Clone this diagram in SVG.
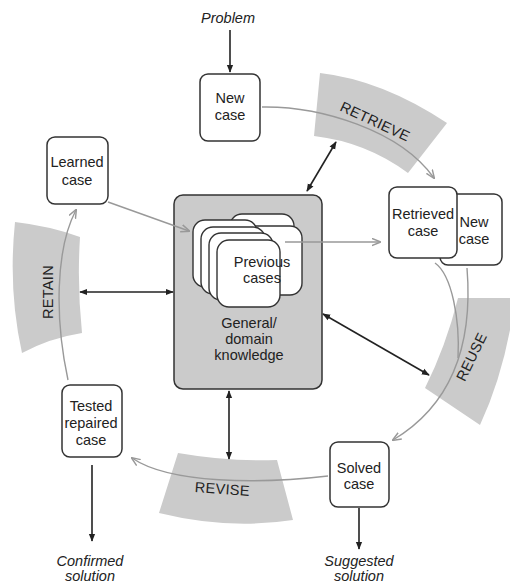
<svg xmlns="http://www.w3.org/2000/svg" width="510" height="585" viewBox="0 0 510 585">
<defs>
<style>
text{font-family:"Liberation Sans",Arial,sans-serif;font-size:14.5px;fill:#222;text-anchor:middle}
.it{font-style:italic}
.band{fill:#cbcbcb;stroke:none}
.phase{font-size:14.5px;letter-spacing:0.3px}
.box{fill:#fff;stroke:#333;stroke-width:1.5}
.card{fill:#fff;stroke:#333;stroke-width:1.4}
.blk{fill:none;stroke:#222;stroke-width:1.6}
.gry{fill:none;stroke:#999;stroke-width:1.4}
</style>
<marker id="ab" viewBox="0 0 10 10" refX="9" refY="5" markerWidth="8" markerHeight="8" orient="auto-start-reverse" markerUnits="userSpaceOnUse"><path d="M0,1 L10,5 L0,9 Z" fill="#222"/></marker>
<marker id="ag" viewBox="0 0 10 10" refX="9" refY="5" markerWidth="9" markerHeight="9" orient="auto" markerUnits="userSpaceOnUse"><path d="M0,1 L10,5 L0,9" fill="none" stroke="#999" stroke-width="1.6"/></marker>
</defs>
<rect width="510" height="585" fill="#fff"/>

<g id="bands">
<path class="band" d="M320,73 Q382,80 447,123 L408,173 Q366,142 314,136 Z"/>
<path class="band" d="M458,298 L510,298 L510,330 Q500,382 480,425 L425,388 Q446,346 458,298 Z"/>
<path class="band" d="M178,453 Q230,462 277,460 L293,520 Q228,530 159,513 Z"/>
<path class="band" d="M15,222 Q50,226 80,237 Q77,285 82,333 Q50,338 22,353 Q8,290 15,222 Z"/>
<text class="phase" transform="translate(373,126) rotate(25)">RETRIEVE</text>
<text class="phase" transform="translate(476,359) rotate(-64)">REUSE</text>
<text class="phase" transform="translate(222,494) rotate(4)">REVISE</text>
<text class="phase" transform="translate(53,292) rotate(-90)">RETAIN</text>
</g>

<g id="knowledge">
<rect x="174" y="195" width="148" height="194" rx="9" fill="#cbcbcb" stroke="#333" stroke-width="1.5"/>
<rect class="card" x="230" y="214" width="64" height="68" rx="12"/>
<rect class="card" x="238" y="226" width="64" height="69" rx="12"/>
<rect class="card" x="193" y="220" width="64" height="67" rx="12"/>
<rect class="card" x="201" y="227" width="64" height="67" rx="12"/>
<rect class="card" x="209" y="233" width="64" height="67" rx="12"/>
<rect class="card" x="217" y="240" width="63" height="67" rx="12"/>
<text x="262" y="267">Previous</text>
<text x="262" y="283">cases</text>
<text x="249" y="328">General/</text>
<text x="249" y="344">domain</text>
<text x="249" y="360">knowledge</text>
</g>

<g id="problem"><text class="it" x="228" y="23">Problem</text></g>

<g id="newcase">
<rect class="box" x="200" y="74" width="60" height="67" rx="8"/>
<text x="230" y="103">New</text>
<text x="230" y="120">case</text>
</g>

<g id="newcase2">
<rect class="box" x="440" y="194" width="62" height="71" rx="8"/>
<text x="474" y="227">New</text>
<text x="474" y="244">case</text>
</g>

<g id="retrieved">
<rect class="box" x="389" y="187" width="68" height="71" rx="8"/>
<text x="423" y="219">Retrieved</text>
<text x="423" y="236">case</text>
</g>

<g id="solved">
<rect class="box" x="330" y="442" width="59" height="65" rx="8"/>
<text x="359" y="473">Solved</text>
<text x="359" y="489">case</text>
</g>

<g id="tested">
<rect class="box" x="62" y="385" width="60" height="72" rx="8"/>
<text x="91" y="411">Tested</text>
<text x="91" y="428">repaired</text>
<text x="91" y="445">case</text>
</g>

<g id="learned">
<rect class="box" x="47" y="137" width="61" height="67" rx="8"/>
<text x="77" y="167">Learned</text>
<text x="77" y="185">case</text>
</g>

<g id="suggested">
<text class="it" x="359" y="566">Suggested</text>
<text class="it" x="359" y="581">solution</text>
</g>

<g id="confirmed">
<text class="it" x="90" y="566">Confirmed</text>
<text class="it" x="90" y="581">solution</text>
</g>

<g id="connectors">
<line class="blk" x1="230" y1="30" x2="230" y2="72" marker-end="url(#ab)"/>
<line class="blk" x1="359" y1="508" x2="359" y2="549" marker-end="url(#ab)"/>
<line class="blk" x1="92" y1="465" x2="92" y2="541" marker-end="url(#ab)"/>
<line class="blk" x1="307" y1="191" x2="336" y2="142" marker-start="url(#ab)" marker-end="url(#ab)"/>
<line class="blk" x1="323" y1="314" x2="429" y2="375" marker-start="url(#ab)" marker-end="url(#ab)"/>
<line class="blk" x1="229" y1="391" x2="229" y2="459" marker-start="url(#ab)" marker-end="url(#ab)"/>
<line class="blk" x1="80" y1="292" x2="173" y2="292" marker-start="url(#ab)" marker-end="url(#ab)"/>
<path class="gry" d="M262,107 C320,106 400,130 434,178" marker-end="url(#ag)"/>
<path class="gry" d="M285,242 L380,242" marker-end="url(#ag)"/>
<path class="gry" d="M435,263 C452,275 460,320 458,358"/>
<path class="gry" d="M467,268 C472,330 460,400 393,440" marker-end="url(#ag)"/>
<path class="gry" d="M328,476 C260,484 170,484 132,458" marker-end="url(#ag)"/>
<path class="gry" d="M68,380 C55,320 55,250 76,210" marker-end="url(#ag)"/>
<path class="gry" d="M108,202 L189,231" marker-end="url(#ag)"/>
</g>
</svg>
